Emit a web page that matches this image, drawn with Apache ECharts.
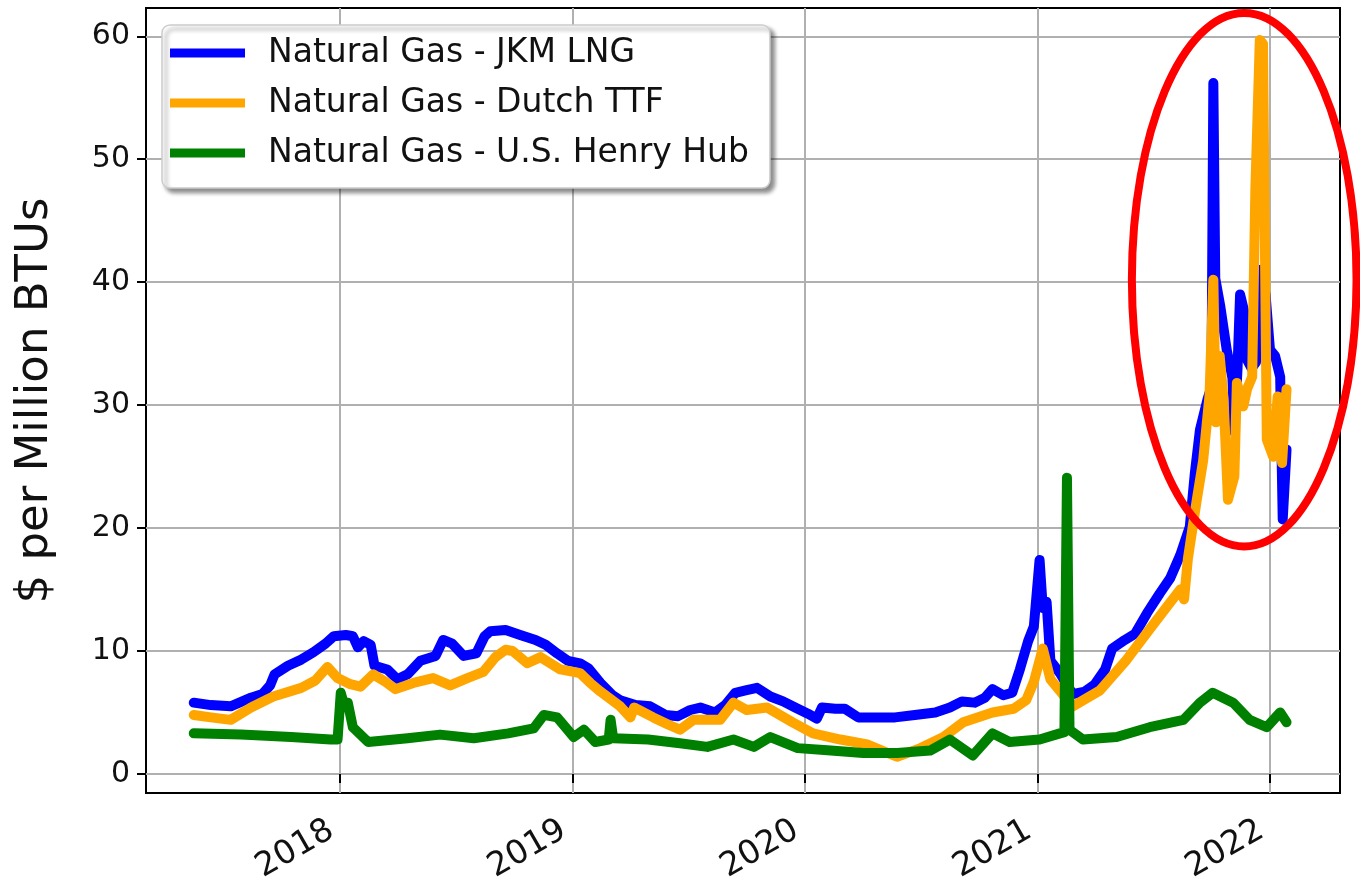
<!DOCTYPE html>
<html><head><meta charset="utf-8">
<script src="https://cdn.jsdelivr.net/npm/echarts@6/dist/echarts.min.js"></script>
<style>html,body{margin:0;padding:0;background:#fff}#c{width:1360px;height:887px}</style>
</head><body><div id="c"></div>
<script>
const seriesNames = ['Natural Gas - JKM LNG', 'Natural Gas - Dutch TTF', 'Natural Gas - U.S. Henry Hub'];
const yTickValues = [0, 10, 20, 30, 40, 50, 60];
const xTickYears = ['2018', '2019', '2020', '2021', '2022'];
const yAxisTitle = '$ per Million BTUs';

const jkmDates = ['2017-05-16','2017-06-12','2017-07-13','2017-08-14','2017-09-01','2017-09-13','2017-09-20','2017-10-11','2017-11-01','2017-11-20','2017-12-09','2017-12-22','2018-01-10','2018-01-21','2018-01-29','2018-02-07','2018-02-18','2018-02-24','2018-03-16','2018-04-01','2018-04-17','2018-05-07','2018-05-31','2018-06-12','2018-06-26','2018-07-14','2018-08-03','2018-08-16','2018-08-25','2018-09-18','2018-10-11','2018-11-04','2018-11-20','2018-12-08','2018-12-25','2019-01-13','2019-01-26','2019-02-14','2019-03-05','2019-03-17','2019-04-10','2019-05-03','2019-05-27','2019-06-16','2019-07-05','2019-07-21','2019-08-13','2019-08-29','2019-09-14','2019-09-30','2019-10-18','2019-11-08','2019-11-28','2019-12-17','2020-01-06','2020-01-20','2020-01-28','2020-02-18','2020-03-04','2020-03-25','2020-04-21','2020-05-22','2020-06-22','2020-07-24','2020-08-16','2020-09-04','2020-09-24','2020-10-10','2020-10-22','2020-11-08','2020-11-22','2020-12-04','2020-12-17','2020-12-26','2021-01-04','2021-01-09','2021-01-15','2021-01-21','2021-02-05','2021-02-25','2021-03-16','2021-04-01','2021-04-17','2021-04-28','2021-05-18','2021-06-03','2021-06-22','2021-07-12','2021-07-28','2021-08-13','2021-08-28','2021-09-05','2021-09-13','2021-09-25','2021-10-01','2021-10-04','2021-10-07','2021-10-15','2021-10-25','2021-11-03','2021-11-06','2021-11-11','2021-11-15','2021-11-22','2021-11-26','2021-12-03','2021-12-10','2021-12-18','2021-12-25','2022-01-01','2022-01-09','2022-01-17','2022-01-21','2022-01-27'];
const jkmValues = [5.8,5.6,5.5,6.2,6.5,7.2,8.1,8.8,9.3,9.9,10.6,11.2,11.3,11.2,10.3,10.8,10.5,8.8,8.5,7.7,8.1,9.2,9.6,10.9,10.6,9.6,9.8,11.2,11.6,11.7,11.3,10.9,10.5,9.8,9.2,9.0,8.6,7.4,6.4,6.0,5.6,5.5,4.8,4.7,5.2,5.4,5.0,5.6,6.6,6.8,7.0,6.3,5.9,5.4,4.9,4.5,5.4,5.3,5.3,4.6,4.6,4.6,4.8,5.0,5.4,5.9,5.8,6.2,6.9,6.4,6.6,8.5,10.8,12.0,17.4,13.5,14.0,9.2,8.2,6.5,6.7,7.3,8.5,10.2,10.9,11.4,13.1,14.7,15.9,17.8,20.1,24.5,28.0,30.5,31.5,56.2,40.3,38.0,34.5,32.2,27.8,33.0,39.0,37.5,33.7,33.0,33.5,41.0,39.0,34.5,34.0,32.3,20.7,26.4];

const ttfDates = ['2017-05-16','2017-06-12','2017-07-13','2017-08-14','2017-09-18','2017-11-01','2017-11-23','2017-12-12','2017-12-28','2018-01-17','2018-02-02','2018-02-22','2018-03-13','2018-03-29','2018-04-26','2018-05-27','2018-06-23','2018-07-20','2018-08-14','2018-09-02','2018-09-18','2018-09-29','2018-10-22','2018-11-12','2018-12-13','2019-01-13','2019-01-29','2019-02-14','2019-03-17','2019-04-02','2019-04-08','2019-05-08','2019-06-01','2019-06-19','2019-07-10','2019-08-21','2019-09-11','2019-10-02','2019-11-03','2019-12-13','2020-01-14','2020-02-26','2020-04-08','2020-05-06','2020-05-25','2020-07-01','2020-08-06','2020-09-06','2020-10-22','2020-11-24','2020-12-14','2020-12-26','2021-01-09','2021-01-21','2021-02-25','2021-04-09','2021-05-21','2021-06-22','2021-07-23','2021-08-13','2021-08-19','2021-08-25','2021-09-08','2021-09-18','2021-09-28','2021-10-04','2021-10-08','2021-10-14','2021-10-20','2021-10-27','2021-11-06','2021-11-10','2021-11-20','2021-11-26','2021-12-04','2021-12-09','2021-12-16','2021-12-21','2021-12-27','2022-01-06','2022-01-13','2022-01-20','2022-01-27'];
const ttfValues = [4.8,4.6,4.4,5.4,6.3,7.0,7.6,8.7,7.8,7.3,7.1,8.1,7.5,6.9,7.4,7.8,7.2,7.8,8.3,9.5,10.1,10.0,9.0,9.5,8.5,8.2,7.4,6.7,5.5,4.6,5.4,4.6,4.0,3.6,4.4,4.4,5.8,5.2,5.4,4.2,3.3,2.8,2.4,1.8,1.4,2.1,3.0,4.2,5.0,5.3,6.0,7.5,10.2,7.7,5.5,6.8,9.3,11.5,13.6,15.0,14.2,17.5,22.3,25.5,30.8,40.2,28.6,34.0,30.5,22.3,24.2,31.8,29.9,31.3,32.3,47.5,59.7,59.4,27.2,25.8,30.7,25.3,31.3];

const hhDates = ['2017-05-16','2017-07-29','2017-10-16','2017-12-17','2017-12-28','2018-01-02','2018-01-08','2018-01-13','2018-01-21','2018-02-14','2018-04-17','2018-06-07','2018-07-30','2018-09-22','2018-11-01','2018-11-17','2018-12-08','2019-01-03','2019-01-19','2019-02-06','2019-02-27','2019-03-02','2019-03-06','2019-04-30','2019-06-19','2019-08-01','2019-09-11','2019-10-13','2019-11-08','2019-12-21','2020-02-11','2020-04-02','2020-05-25','2020-07-16','2020-08-16','2020-09-21','2020-10-22','2020-11-18','2021-01-04','2021-02-05','2021-02-12','2021-02-16','2021-02-20','2021-03-13','2021-05-05','2021-06-26','2021-08-18','2021-09-13','2021-10-03','2021-11-04','2021-11-30','2021-12-27','2022-01-17','2022-01-27'];
const hhValues = [3.3,3.2,3.0,2.8,2.8,6.6,5.5,5.8,3.8,2.6,2.9,3.2,2.9,3.3,3.7,4.8,4.6,3.0,3.6,2.6,2.8,4.4,2.9,2.8,2.5,2.2,2.8,2.2,3.0,2.1,1.9,1.7,1.7,1.9,2.8,1.5,3.3,2.6,2.8,3.3,3.4,24.1,3.6,2.8,3.0,3.8,4.4,5.8,6.6,5.8,4.4,3.8,5.0,4.2];

// axis span and highlighted region (data units) circled in red
const xRange = ['2017-03-02', '2022-04-21'];
const highlightDates = ['2021-05-29', '2022-05-17'];
const highlightValues = [18.5, 61.9];

const FONT = 'DejaVu Sans';
const colors = ['#0000ff', '#ffa500', '#008000'];
const ts = s => { const p = s.split('-').map(Number); return new Date(p[0], p[1] - 1, p[2]).getTime(); };
const pairs = (d, v) => d.map((x, i) => [ts(x), v[i]]);
const yearTs = xTickYears.map(y => ts(y + '-01-01'));

const chart = echarts.init(document.getElementById('c'), null, {renderer: 'canvas'});
const seriesData = [pairs(jkmDates, jkmValues), pairs(ttfDates, ttfValues), pairs(hhDates, hhValues)];

chart.setOption({
  animation: false,
  backgroundColor: '#fff',
  grid: {left: 146, right: 20, top: 8, bottom: 94, show: true, borderColor: '#000', borderWidth: 2, backgroundColor: 'transparent', outerBoundsMode: 'none', containLabel: false},
  xAxis: {
    type: 'value',
    min: ts(xRange[0]),
    max: ts(xRange[1]),
    axisLine: {show: false},
    axisTick: {show: true, length: 9, lineStyle: {color: '#000', width: 2}, customValues: yearTs},
    axisLabel: {customValues: yearTs, formatter: v => String(new Date(v).getFullYear()), rotate: 30, fontSize: 33, fontFamily: FONT, color: '#111', margin: 30, padding: [0, 10, 0, 0]},
    splitLine: {show: true, lineStyle: {color: '#b0b0b0', width: 2}}
  },
  yAxis: {
    type: 'value',
    min: -1.55,
    max: 62.3,
    axisLine: {show: false},
    axisTick: {show: true, length: 9, lineStyle: {color: '#000', width: 2}, customValues: yTickValues},
    axisLabel: {customValues: yTickValues, fontSize: 30, fontFamily: FONT, color: '#111', margin: 16},
    splitLine: {show: true, lineStyle: {color: '#b0b0b0', width: 2}},
    name: yAxisTitle,
    nameLocation: 'middle',
    nameRotate: 90,
    nameGap: 88,
    nameTextStyle: {fontSize: 45, fontFamily: FONT, color: '#111'}
  },
  legend: {
    orient: 'vertical',
    left: 162,
    top: 25,
    padding: [11, 21, 18, 8],
    itemGap: 16,
    itemWidth: 75,
    itemHeight: 9,
    icon: 'rect',
    backgroundColor: '#fff',
    borderColor: '#cccccc',
    borderWidth: 1.5,
    borderRadius: 8,
    shadowColor: 'rgba(0,0,0,0.45)',
    shadowBlur: 4,
    shadowOffsetX: 4,
    shadowOffsetY: 4,
    textStyle: {fontSize: 33, fontFamily: FONT, color: '#111', lineHeight: 34, padding: [0, 0, 0, 18]},
    data: seriesNames
  },
  series: seriesNames.map((n, i) => ({
    name: n,
    type: 'line',
    data: seriesData[i],
    showSymbol: false,
    symbol: 'none',
    color: colors[i],
    lineStyle: {width: 10, color: colors[i], join: 'round', cap: 'round'},
    z: 2 + i
  }))
});

const p1 = chart.convertToPixel({gridIndex: 0}, [ts(highlightDates[0]), highlightValues[1]]);
const p2 = chart.convertToPixel({gridIndex: 0}, [ts(highlightDates[1]), highlightValues[0]]);
chart.setOption({
  graphic: [{
    type: 'ellipse',
    shape: {cx: (p1[0] + p2[0]) / 2, cy: (p1[1] + p2[1]) / 2, rx: Math.abs(p2[0] - p1[0]) / 2, ry: Math.abs(p2[1] - p1[1]) / 2},
    style: {fill: 'none', stroke: '#ff0000', lineWidth: 8},
    z: 100
  }]
});
</script>
</body></html>
